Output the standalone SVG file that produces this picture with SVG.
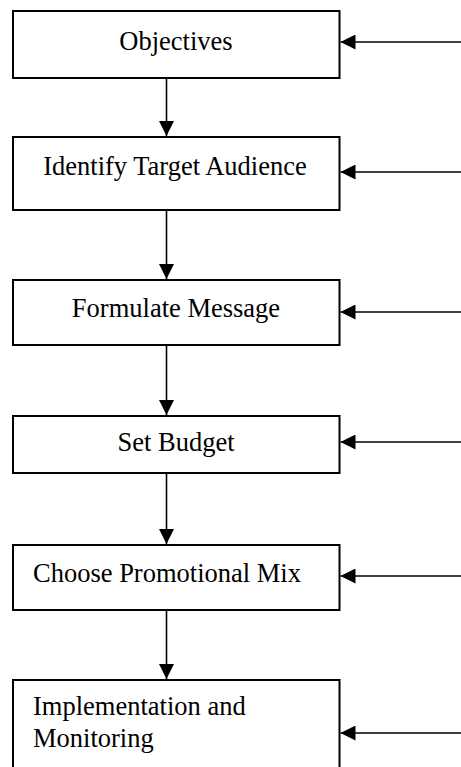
<svg xmlns="http://www.w3.org/2000/svg" width="461" height="767" viewBox="0 0 461 767">
  <style>
    .box { fill: #ffffff; stroke: #000000; stroke-width: 2; }
    .lbl { font-family: "Liberation Serif", "Times New Roman", serif; font-size: 26.5px; fill: #000000; }
    .mid { text-anchor: middle; }
    .conn { stroke: #000000; stroke-width: 1.6; fill: none; marker-end: url(#ah); }
  </style>
  <defs>
    <marker id="ah" markerUnits="userSpaceOnUse" viewBox="0 0 15 15" refX="15" refY="7.5" markerWidth="15" markerHeight="15" orient="auto">
      <path d="M0,0 L15,7.5 L0,15 Z" fill="#000000"/>
    </marker>
  </defs>
  <rect width="461" height="767" fill="#ffffff"/>

  <g id="n1">
    <rect class="box" x="13" y="11" width="326.5" height="67"/>
    <text class="lbl mid" x="176" y="50">Objectives</text>
  </g>
  <g id="n2">
    <rect class="box" x="13" y="137" width="326.5" height="73"/>
    <text class="lbl mid" x="175" y="175">Identify Target Audience</text>
  </g>
  <g id="n3">
    <rect class="box" x="13" y="280" width="326.5" height="65"/>
    <text class="lbl mid" x="176" y="317">Formulate Message</text>
  </g>
  <g id="n4">
    <rect class="box" x="13" y="416" width="326.5" height="57"/>
    <text class="lbl mid" x="176" y="451">Set Budget</text>
  </g>
  <g id="n5">
    <rect class="box" x="13" y="545" width="326.5" height="65"/>
    <text class="lbl" x="33" y="582">Choose Promotional Mix</text>
  </g>
  <g id="n6">
    <rect class="box" x="13" y="680" width="326.5" height="100"/>
    <text class="lbl" x="33" y="715">Implementation and</text>
    <text class="lbl" x="33" y="747">Monitoring</text>
  </g>

  <g id="connectors">
    <line class="conn" x1="166.5" y1="79" x2="166.5" y2="136"/>
    <line class="conn" x1="166.5" y1="211" x2="166.5" y2="279"/>
    <line class="conn" x1="166.5" y1="346" x2="166.5" y2="415"/>
    <line class="conn" x1="166.5" y1="474" x2="166.5" y2="544"/>
    <line class="conn" x1="166.5" y1="611" x2="166.5" y2="679"/>

    <line class="conn" x1="461" y1="42" x2="340.5" y2="42"/>
    <line class="conn" x1="461" y1="172" x2="340.5" y2="172"/>
    <line class="conn" x1="461" y1="312" x2="340.5" y2="312"/>
    <line class="conn" x1="461" y1="442" x2="340.5" y2="442"/>
    <line class="conn" x1="461" y1="576" x2="340.5" y2="576"/>
    <line class="conn" x1="461" y1="733" x2="340.5" y2="733"/>
  </g>
</svg>
